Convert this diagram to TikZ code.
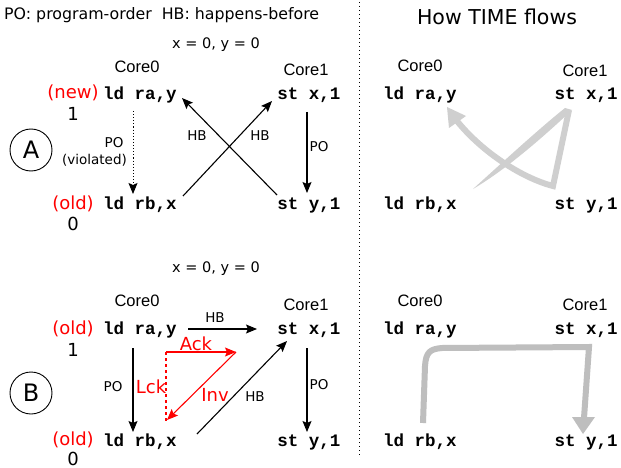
\documentclass[tikz,border=0pt]{standalone}
\usepackage{fontspec}
\setmainfont{DejaVu Sans}
\newfontfamily\corefont{Liberation Sans}
\setmonofont{Liberation Mono}
\usetikzlibrary{arrows.meta,calc}
\definecolor{swA}{HTML}{CFCFCF}
\definecolor{swB}{HTML}{BEBEBE}
\tikzset{
  code/.style={font=\fontsize{17.5}{18}\selectfont\ttfamily\bfseries, inner sep=0pt},
  core/.style={font=\fontsize{16.5}{17}\selectfont\corefont, inner sep=0pt},
  redlab/.style={font=\fontsize{18}{19}\selectfont, text=red, inner sep=0pt},
  val/.style={font=\fontsize{18}{19}\selectfont, inner sep=0pt},
  small/.style={font=\fontsize{13.5}{15}\selectfont, inner sep=0pt},
  init/.style={font=\fontsize{14.5}{15}\selectfont, inner sep=0pt},
  circ/.style={draw, circle, line width=0.9pt, minimum size=42pt, inner sep=0pt, font=\fontsize{24}{25}\selectfont},
  arr/.style={-{Stealth[length=11pt,width=9pt,inset=2pt]}, line width=1.1pt},
  rarr/.style={arr, red},
}
\begin{document}
\begin{tikzpicture}[x=1pt,y=-1pt]
\useasboundingbox (0,0) rectangle (621,468);
\fill[white] (0,0) rectangle (621,468);

% headers
\node[anchor=west, font=\fontsize{15.8}{16}\selectfont, inner sep=0pt] (title) at (4,15) {PO: program-order\ \ HB: happens-before};
\node[font=\fontsize{20.5}{21}\selectfont, inner sep=0pt] (time) at (497,17) {How TIME flows};
\coordinate (divT) at (359,2);
\coordinate (divB) at (359,456);
\draw[line width=1pt, dash pattern=on 1pt off 3pt] (divT) -- (divB);

% ===== A left =====
\node[init] (xyA) at (216,45) {x = 0, y = 0};
\node[core] (c0A) at (137,67) {Core0};
\node[core] (c1A) at (306,70) {Core1};
\node[code] (raA) at (140,95) {ld ra,y};
\node[code] (stxA) at (309,95) {st x,1};
\node[code] (rbA) at (140,205) {ld rb,x};
\node[code] (styA) at (309,205) {st y,1};
\node[redlab] (newA) at (73,93) {(new)};
\node[val] (oneA) at (73,114) {1};
\node[redlab] (oldA) at (73,204) {(old)};
\node[val] (zeroA) at (73,224) {0};
\node[circ] (circA) at (31,150) {A};

\draw[arr, dotted, line width=1pt] ($(raA)+(-7,16)$) -- ($(rbA)+(-7,-11)$);
\node[small] (poA) at (114,143) {PO};
\node[small] (violA) at (94.5,160) {(violated)};
\draw[arr] ($(styA)+(-32,-10)$) -- ($(raA)+(42,3)$);
\draw[arr] ($(rbA)+(43,-9)$) -- ($(stxA)+(-37,6)$);
\node[small] (hb1A) at (197,136) {HB};
\node[small] (hb2A) at (260,136) {HB};
\draw[arr] ($(stxA)+(-2,17)$) -- ($(styA)+(-2,-12)$);
\node[small] (po2A) at (319,147) {PO};

% ===== B left =====
\node[init] (xyB) at (216,269) {x = 0, y = 0};
\node[core] (c0B) at (137,301) {Core0};
\node[core] (c1B) at (306,305) {Core1};
\node[code] (raB) at (140,330) {ld ra,y};
\node[code] (stxB) at (309,330) {st x,1};
\node[code] (rbB) at (140,442) {ld rb,x};
\node[code] (styB) at (309,442) {st y,1};
\node[redlab] (old1B) at (73,329) {(old)};
\node[val] (oneB) at (73,350) {1};
\node[redlab] (old2B) at (73,440) {(old)};
\node[val] (zeroB) at (73,458.5) {0};
\node[circ] (circB) at (31,393) {B};

\draw[arr] ($(raB)+(48,-1)$) -- ($(stxB)+(-52,-1)$);
\node[small] (hbB) at (215,318) {HB};
\draw[arr] ($(raB)+(-7,18)$) -- ($(rbB)+(-7,-10)$);
\node[small] (poB) at (113,387) {PO};
\draw[arr] ($(stxB)+(-2,18)$) -- ($(styB)+(-2,-10)$);
\node[small] (po2B) at (319,385) {PO};
\draw[arr] ($(rbB)+(57,-8)$) -- ($(stxB)+(-22,11)$);
\node[small] (hb2B) at (255,397) {HB};

\coordinate (a0) at ($(raB)+(26,22)$);
\coordinate (a1) at ($(raB)+(96,22)$);
\coordinate (a2) at ($(rbB)+(27,-22)$);
\coordinate (a3) at ($(rbB)+(26,-21)$);
\draw[rarr] (a0) -- (a1);
\draw[rarr] (a1) -- (a2);
\draw[red, line width=1.1pt, dashed] (a0) -- (a3);
\node[redlab] (ack) at (196,344) {Ack};
\node[redlab] (lck) at (151,387) {Lck};
\node[redlab] (inv) at (215,395) {Inv};

% ===== A right =====
\node[core] (c0Ar) at (420,66) {Core0};
\node[core] (c1Ar) at (585,71) {Core1};
\node[code] (raAr) at (420,95) {ld ra,y};
\node[code] (stxAr) at (586,95) {st x,1};
\node[code] (rbAr) at (420,205) {ld rb,x};
\node[code] (styAr) at (586,205) {st y,1};

% swoosh A
\fill[swA] (473,189) .. controls (505,160) and (540,128) .. (565,108) -- (572,110) .. controls (540,140) and (505,170) .. cycle;
\draw[swA, line width=6pt, line join=miter] (569,110) -- (553,186) .. controls (522,178) and (482,152) .. (457,121);
\fill[swA] (447,107) -- (466,116) -- (449,128) -- cycle;

% ===== B right =====
\node[core] (c0Br) at (420,301) {Core0};
\node[core] (c1Br) at (585,305) {Core1};
\node[code] (raBr) at (420,330) {ld ra,y};
\node[code] (stxBr) at (586,330) {st x,1};
\node[code] (rbBr) at (420,442) {ld rb,x};
\node[code] (styBr) at (586,442) {st y,1};

% swoosh B
\draw[swB, line width=6pt, line join=miter] (423,423) -- (425,366) .. controls (426,352) and (430,349) .. (442,348) -- (589,347) -- (584,418);
\fill[swB] (572,417) -- (595,417) -- (583,434) -- cycle;
\end{tikzpicture}
\end{document}
